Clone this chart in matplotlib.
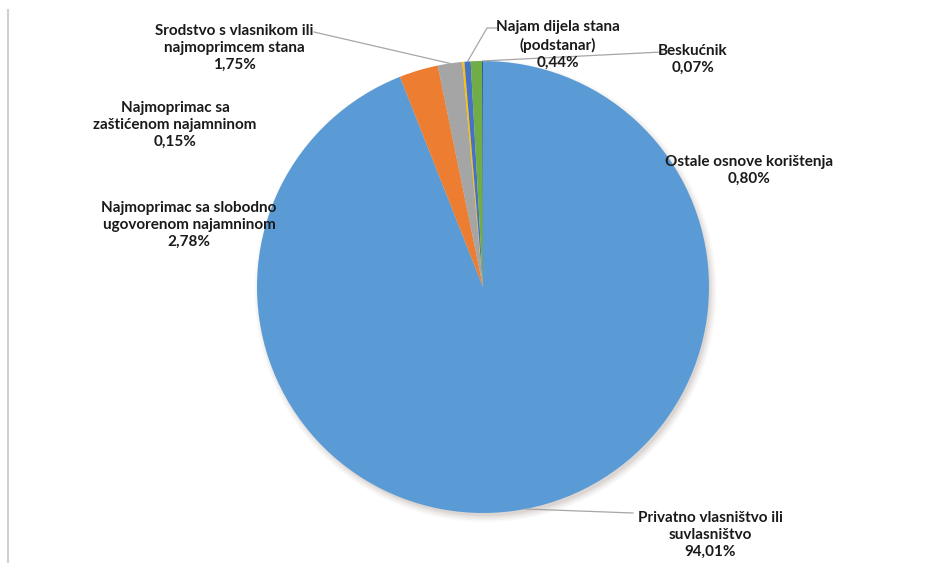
import matplotlib
matplotlib.use("Agg")
import matplotlib.pyplot as plt
import numpy as np
from matplotlib.patches import Circle

# ---- data ----
categories = [
    "Privatno vlasništvo ili\nsuvlasništvo",
    "Najmoprimac sa slobodno\nugovorenom najamninom",
    "Srodstvo s vlasnikom ili\nnajmoprimcem stana",
    "Najmoprimac sa\nzaštićenom najamninom",
    "Najam dijela stana\n(podstanar)",
    "Ostale osnove korištenja",
    "Beskućnik",
]
values = [94.01, 2.78, 1.75, 0.15, 0.44, 0.80, 0.07]
value_labels = ["94,01%", "2,78%", "1,75%", "0,15%", "0,44%", "0,80%", "0,07%"]
colors = ["#5B9BD5", "#ED7D31", "#A5A5A5", "#FFC000", "#4472C4", "#70AD47", "#255E91"]

W, H = 944, 563
fig = plt.figure(figsize=(W / 100, H / 100), dpi=100)
ax = fig.add_axes([0, 0, 1, 1])

def Y(y):
    return H - y

cx, cy, R = 483, Y(287), 226

# soft shadow
for i, a in enumerate([0.04, 0.05, 0.06, 0.08, 0.10]):
    ax.add_patch(Circle((cx + 2.5, cy - 4), R + 5 - i * 1.5, color="#8a7a6a", alpha=a, lw=0, zorder=0))

wedges, _ = ax.pie(values, colors=colors, startangle=90, counterclock=False,
                   center=(cx, cy), radius=R, wedgeprops=dict(linewidth=0))
for w in wedges:
    w.set_zorder(2)

ax.set_xlim(0, W)
ax.set_ylim(0, H)
ax.set_aspect("auto")
ax.axis("off")

# left border line
ax.plot([8, 8], [Y(10), Y(563)], color="#d0d0d0", lw=1.5, zorder=1)

# anchor points on wedge rim
cum = np.cumsum([0] + values[:-1])
total = sum(values)
def anchor(i):
    mid = cum[i] + values[i] / 2
    ang = np.deg2rad(90 - 360 * mid / total)
    return cx + R * np.cos(ang), cy + R * np.sin(ang)

# label layout (text centre x, middle y in image px)
label_pos = {
    0: (710, 535),
    1: (189, 225),
    2: (234, 48),
    3: (175, 125),
    4: (558, 45),
    5: (749, 170),
    6: (693, 59),
}
font = dict(family=["Lato", "DejaVu Sans"], fontweight="bold", fontsize=11, color="#1a1a1a")
for i, (tx, ty) in label_pos.items():
    ax.text(tx, Y(ty), categories[i] + "\n" + value_labels[i], ha="center", va="center",
            linespacing=1.27, zorder=5, **font)

# leader lines (anchor -> label end)
line_kw = dict(color="#a6a6a6", lw=0.9, zorder=3)
leaders = {
    0: [(633, 513)],
    2: [(314, 32)],
    4: [(487, 28), (497, 28)],
    6: [(662, 52)],
}
for i, pts in leaders.items():
    ax0, ay0 = anchor(i)
    xs = [ax0] + [p[0] for p in pts]
    ys = [ay0] + [Y(p[1]) for p in pts]
    ax.plot(xs, ys, **line_kw)

fig.savefig("out.png", dpi=100, facecolor="white")
